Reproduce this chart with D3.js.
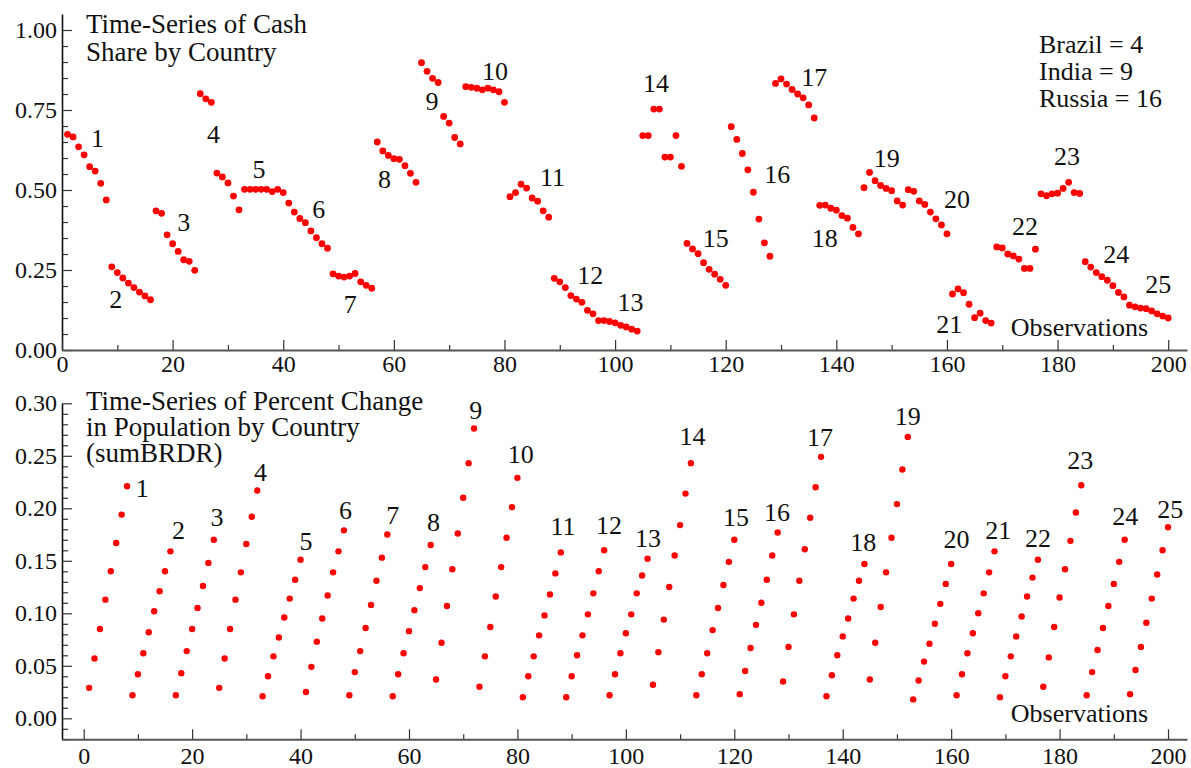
<!DOCTYPE html>
<html>
<head>
<meta charset="utf-8">
<script src="https://cdn.jsdelivr.net/npm/d3@7"></script>
<style>
  html, body { margin: 0; padding: 0; background: #fff; }
  svg { display: block; font-family: "Liberation Serif", "Times New Roman", serif; }
  .tick text { font-size: 24px; fill: #111; }
  .lbl { font-size: 26px; fill: #111; }
  .ttl { font-size: 27px; fill: #111; }
</style>
</head>
<body>
<svg id="chart" width="1191" height="768"></svg>
<script>
// 25 countries, 8 yearly observations each (200 observations in total)
const countries = d3.range(1, 26);

const cashShare = [
  0.674, 0.666, 0.635, 0.610, 0.573, 0.559, 0.521, 0.469,
  0.260, 0.242, 0.225, 0.209, 0.195, 0.181, 0.169, 0.157,
  0.435, 0.427, 0.360, 0.332, 0.308, 0.282, 0.277, 0.249,
  0.801, 0.785, 0.774, 0.553, 0.541, 0.522, 0.481, 0.438,
  0.502, 0.502, 0.502, 0.502, 0.502, 0.495, 0.502, 0.492,
  0.459, 0.431, 0.411, 0.398, 0.372, 0.351, 0.332, 0.318,
  0.238, 0.231, 0.228, 0.231, 0.239, 0.213, 0.202, 0.193,
  0.650, 0.622, 0.608, 0.598, 0.596, 0.576, 0.552, 0.524,
  0.898, 0.871, 0.849, 0.836, 0.730, 0.709, 0.664, 0.644,
  0.823, 0.821, 0.818, 0.813, 0.818, 0.813, 0.807, 0.774,
  0.479, 0.492, 0.518, 0.506, 0.475, 0.465, 0.435, 0.415,
  0.224, 0.213, 0.195, 0.170, 0.159, 0.149, 0.124, 0.113,
  0.092, 0.092, 0.089, 0.085, 0.077, 0.072, 0.065, 0.059,
  0.670, 0.670, 0.753, 0.753, 0.603, 0.603, 0.670, 0.574,
  0.333, 0.316, 0.301, 0.273, 0.252, 0.237, 0.221, 0.202,
  0.698, 0.658, 0.614, 0.563, 0.493, 0.409, 0.335, 0.293,
  0.833, 0.847, 0.831, 0.814, 0.800, 0.788, 0.766, 0.725,
  0.452, 0.453, 0.443, 0.437, 0.420, 0.412, 0.383, 0.363,
  0.507, 0.555, 0.529, 0.514, 0.505, 0.498, 0.466, 0.453,
  0.501, 0.496, 0.466, 0.455, 0.431, 0.410, 0.391, 0.363,
  0.175, 0.191, 0.179, 0.143, 0.101, 0.115, 0.092, 0.084,
  0.322, 0.319, 0.300, 0.294, 0.284, 0.255, 0.255, 0.315,
  0.488, 0.482, 0.488, 0.490, 0.505, 0.524, 0.492, 0.489,
  0.276, 0.259, 0.242, 0.229, 0.218, 0.201, 0.180, 0.166,
  0.140, 0.135, 0.131, 0.129, 0.122, 0.113, 0.106, 0.100
];

const popChange = [
  0.029, 0.057, 0.085, 0.113, 0.140, 0.167, 0.194, 0.221,
  0.022, 0.042, 0.062, 0.082, 0.102, 0.121, 0.140, 0.159,
  0.022, 0.043, 0.064, 0.085, 0.105, 0.126, 0.148, 0.170,
  0.029, 0.057, 0.085, 0.113, 0.139, 0.166, 0.192, 0.217,
  0.021, 0.040, 0.059, 0.077, 0.096, 0.114, 0.132, 0.151,
  0.025, 0.049, 0.073, 0.095, 0.117, 0.139, 0.159, 0.179,
  0.022, 0.044, 0.064, 0.086, 0.108, 0.131, 0.153, 0.175,
  0.021, 0.042, 0.062, 0.083, 0.103, 0.124, 0.144, 0.165,
  0.037, 0.072, 0.107, 0.142, 0.176, 0.210, 0.243, 0.276,
  0.030, 0.059, 0.087, 0.116, 0.144, 0.172, 0.201, 0.229,
  0.020, 0.040, 0.059, 0.079, 0.098, 0.118, 0.138, 0.158,
  0.020, 0.040, 0.060, 0.079, 0.099, 0.119, 0.140, 0.160,
  0.022, 0.042, 0.062, 0.081, 0.099, 0.119, 0.136, 0.152,
  0.032, 0.063, 0.094, 0.125, 0.155, 0.184, 0.214, 0.243,
  0.022, 0.042, 0.062, 0.084, 0.105, 0.127, 0.149, 0.170,
  0.023, 0.045, 0.067, 0.089, 0.110, 0.132, 0.155, 0.177,
  0.035, 0.068, 0.099, 0.131, 0.161, 0.191, 0.220, 0.249,
  0.021, 0.041, 0.060, 0.078, 0.095, 0.114, 0.131, 0.147,
  0.037, 0.072, 0.106, 0.139, 0.172, 0.204, 0.237, 0.268,
  0.018, 0.036, 0.054, 0.071, 0.090, 0.109, 0.128, 0.147,
  0.022, 0.042, 0.062, 0.081, 0.100, 0.119, 0.139, 0.159,
  0.020, 0.040, 0.059, 0.078, 0.097, 0.116, 0.134, 0.151,
  0.030, 0.058, 0.087, 0.115, 0.142, 0.169, 0.196, 0.222,
  0.022, 0.044, 0.065, 0.086, 0.107, 0.128, 0.149, 0.170,
  0.023, 0.046, 0.068, 0.091, 0.114, 0.137, 0.160, 0.182
];

// country-number annotations, in data units: [observation, value]
const cashLabelAt = [
  [6.4, 0.635], [9.7, 0.131], [22.0, 0.373], [27.4, 0.648], [35.6, 0.538],
  [46.4, 0.413], [52.1, 0.115], [58.3, 0.507], [66.9, 0.750], [78.3, 0.844],
  [88.7, 0.513], [95.5, 0.206], [102.8, 0.123], [107.4, 0.806], [118.2, 0.323],
  [129.3, 0.523], [136.0, 0.825], [137.9, 0.323], [149.1, 0.573], [161.8, 0.443],
  [160.4, 0.054], [174.1, 0.359], [181.7, 0.578], [190.6, 0.271], [198.2, 0.177]
];
const popLabelAt = [
  [10.8, 0.211], [17.5, 0.171], [24.6, 0.183], [32.6, 0.226], [41.0, 0.160],
  [48.3, 0.190], [57.0, 0.185], [64.5, 0.178], [72.3, 0.285], [80.6, 0.243],
  [88.4, 0.175], [96.9, 0.176], [104.1, 0.163], [112.3, 0.260], [120.3, 0.183],
  [127.9, 0.188], [135.8, 0.259], [143.8, 0.159], [152.0, 0.279], [161.0, 0.162],
  [168.7, 0.171], [176.0, 0.163], [183.8, 0.237], [192.1, 0.184], [200.4, 0.191]
];

const cashTitle = ["Time-Series of Cash", "Share by Country"];
const popTitle = ["Time-Series of Percent Change", "in Population by Country", "(sumBRDR)"];
const legendLines = ["Brazil = 4", "India = 9", "Russia = 16"];
const xLabel = "Observations";

const cashYTicks = [0, 0.25, 0.5, 0.75, 1.0];
const cashYMinor = d3.range(0.05, 1.05, 0.05).filter(v => Math.abs(v / 0.25 - Math.round(v / 0.25)) > 1e-6);
const popYTicks = [0, 0.05, 0.10, 0.15, 0.20, 0.25, 0.30];
const popYMinor = d3.range(-0.02, 0.30, 0.01).map(v => +v.toFixed(2)).filter(v => Math.abs(v / 0.05 - Math.round(v / 0.05)) > 1e-6);
const xTicks = d3.range(0, 201, 20);
const xMinor = d3.range(10, 201, 20);

const svg = d3.select("#chart");
const RED = "#ff0000";

// multi-line text block drawn as one <text> with tspans
function textBlock(parent, lines, x, y, step, cls) {
  const t = parent.append("text").attr("class", cls).attr("x", x).attr("y", y);
  t.selectAll("tspan")
    .data(lines)
    .join("tspan")
    .attr("x", x)
    .attr("dy", (d, i) => i === 0 ? 0 : step)
    .text(d => d);
  return t;
}

function panel(opts) {
  const g = svg.append("g");
  const x = d3.scaleLinear().domain(opts.xDomain).range(opts.xRange);
  const y = d3.scaleLinear().domain(opts.yDomain).range(opts.yRange);
  const yBase = opts.yRange[0];
  const xLeft = opts.xRange[0];

  // minor ticks
  g.append("g").attr("transform", `translate(${xLeft},0)`)
    .call(d3.axisLeft(y).tickValues(opts.yMinor).tickSize(-6).tickFormat(""))
    .call(s => s.select(".domain").remove());
  g.append("g").attr("transform", `translate(0,${yBase})`)
    .call(d3.axisBottom(x).tickValues(xMinor).tickSize(-5).tickFormat(""))
    .call(s => s.select(".domain").remove());

  // major ticks and labels
  const ya = g.append("g").attr("transform", `translate(${xLeft},0)`)
    .call(d3.axisLeft(y).tickValues(opts.yTicks).tickSize(-10).tickSizeOuter(0)
      .tickPadding(5).tickFormat(d3.format(".2f")));
  const xa = g.append("g").attr("transform", `translate(0,${yBase})`)
    .call(d3.axisBottom(x).tickValues(xTicks).tickSize(-10).tickSizeOuter(0)
      .tickPadding(opts.xPad).tickFormat(d3.format("d")));

  g.selectAll(".tick line").attr("stroke", "#333").attr("stroke-width", 1.2);
  ya.select(".domain").attr("stroke", "#111").attr("stroke-width", 1.6);
  xa.select(".domain").attr("stroke", "#555").attr("stroke-width", 2);
  g.selectAll(".tick text").attr("font-family", "Liberation Serif");

  // points
  g.append("g").selectAll("circle")
    .data(opts.values)
    .join("circle")
    .attr("cx", (d, i) => x(i + 1))
    .attr("cy", d => y(d))
    .attr("r", opts.r)
    .attr("fill", RED);

  // country numbers
  g.append("g").selectAll("text")
    .data(countries)
    .join("text")
    .attr("class", "lbl")
    .attr("text-anchor", "middle")
    .attr("x", (d, i) => x(opts.labelAt[i][0]))
    .attr("y", (d, i) => y(opts.labelAt[i][1]))
    .text(d => d);

  // title
  textBlock(g, opts.title, 86, opts.titleY, opts.titleStep, "ttl");

  // axis caption
  g.append("text").attr("class", "lbl")
    .attr("text-anchor", "end")
    .attr("x", 1148)
    .attr("y", opts.obsY)
    .text(xLabel);

  return g;
}

panel({
  values: cashShare,
  xDomain: [0, 203.4], xRange: [62, 1187],
  yDomain: [0, 1.05], yRange: [350, 14],
  yTicks: cashYTicks, yMinor: cashYMinor,
  xPad: 5, r: 3.4,
  labelAt: cashLabelAt,
  title: cashTitle, titleY: 33, titleStep: 27.5,
  obsY: 336
});

panel({
  values: popChange,
  xDomain: [-4, 203.5], xRange: [62, 1187],
  yDomain: [-0.02, 0.30], yRange: [739.3, 403.3],
  yTicks: popYTicks, yMinor: popYMinor,
  xPad: 8, r: 3.2,
  labelAt: popLabelAt,
  title: popTitle, titleY: 410, titleStep: 26,
  obsY: 722
});

// country key
textBlock(svg, legendLines, 1039, 53, 27, "lbl");
</script>
</body>
</html>
